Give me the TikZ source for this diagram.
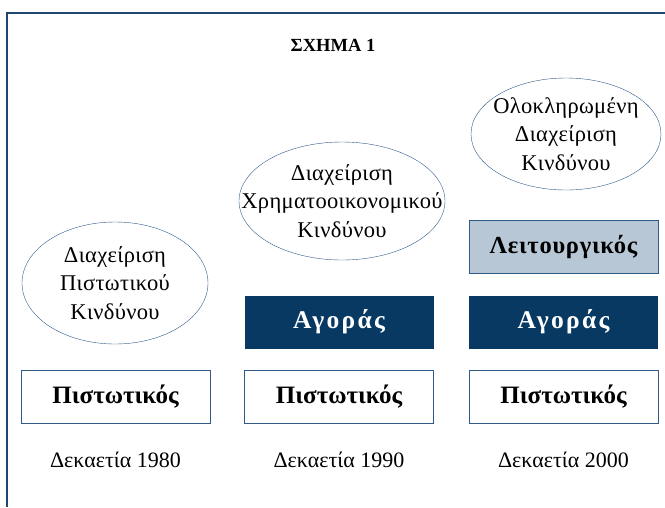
\documentclass[tikz,border=0pt]{standalone}
\usepackage{fontspec}
\setmainfont{Liberation Serif}
\usepackage{tikz}
\usetikzlibrary{shapes.geometric,positioning}

\definecolor{navy}{RGB}{8,57,99}
\definecolor{greyblue}{RGB}{183,199,213}
\definecolor{edgeblue}{RGB}{47,90,136}
\definecolor{framecol}{RGB}{31,72,112}

\tikzset{
  riskcloud/.style={ellipse, draw=edgeblue, thin, inner sep=0pt},
  cloudtext/.style={align=center, inner sep=0pt,
    font=\fontsize{22.5}{28.5}\selectfont\addfontfeatures{LetterSpace=1.5}},
  layerbox/.style={rectangle, minimum width=189pt, minimum height=53pt, inner sep=0pt,
    font=\fontsize{25}{28}\selectfont\bfseries},
  credit/.style={layerbox, draw=edgeblue, fill=white},
  market/.style={layerbox, fill=navy, text=white,
    font=\fontsize{25.5}{28}\selectfont\bfseries\addfontfeatures{LetterSpace=9}},
  operational/.style={layerbox, draw=edgeblue, fill=greyblue,
    font=\fontsize{24.5}{28}\selectfont\bfseries\addfontfeatures{LetterSpace=3}},
  decade/.style={font=\fontsize{22}{26}\selectfont}
}

\begin{document}
\begin{tikzpicture}[x=1pt,y=-1pt,node distance=75pt,on grid]
   \useasboundingbox (0,0) rectangle (665,507);
   \coordinate (f_tr) at (665,13);
   \coordinate (f_tl) at (7,13);
   \coordinate (f_bl) at (7,507);
   \draw[framecol, line width=1.2pt] (f_tr) -- (f_tl) -- (f_bl);
   \node[font=\fontsize{18.5}{22}\selectfont\bfseries] (title) at (333,45) {ΣΧΗΜΑ 1};

   % 1980
   \node[credit] (pist_1) at (115.5,397) {Πιστωτικός};
   \node[decade] (dec_1) [below=63pt of pist_1] {Δεκαετία 1980};
   \node[riskcloud, minimum width=186pt, minimum height=122pt] (cloud_1) at (115,283) {};
   \node[cloudtext] (risk_1) at (cloud_1.center) {Διαχείριση\\Πιστωτικού\\Κινδύνου};

   % 1990
   \node[credit] (pist_2) at (339,397) {Πιστωτικός};
   \node[market] (agor_2) [above=of pist_2] {Αγοράς};
   \node[decade] (dec_2) [below=63pt of pist_2] {Δεκαετία 1990};
   \node[riskcloud, minimum width=206pt, minimum height=118pt] (cloud_2) at (342,201) {};
   \node[cloudtext] (risk_2) at (cloud_2.center) {Διαχείριση\\Χρηματοοικονομικού\\Κινδύνου};

   % 2000
   \node[credit] (pist_3) at (563.5,397) {Πιστωτικός};
   \node[market] (agor_3) [above=of pist_3] {Αγοράς};
   \node[operational] (leit_3) [above=of agor_3] {Λειτουργικός};
   \node[decade] (dec_3) [below=63pt of pist_3] {Δεκαετία 2000};
   \node[riskcloud, minimum width=190pt, minimum height=112pt] (cloud_3) at (566,134) {};
   \node[cloudtext] (risk_3) at (cloud_3.center) {Ολοκληρωμένη\\Διαχείριση\\Κινδύνου};
\end{tikzpicture}
\end{document}
